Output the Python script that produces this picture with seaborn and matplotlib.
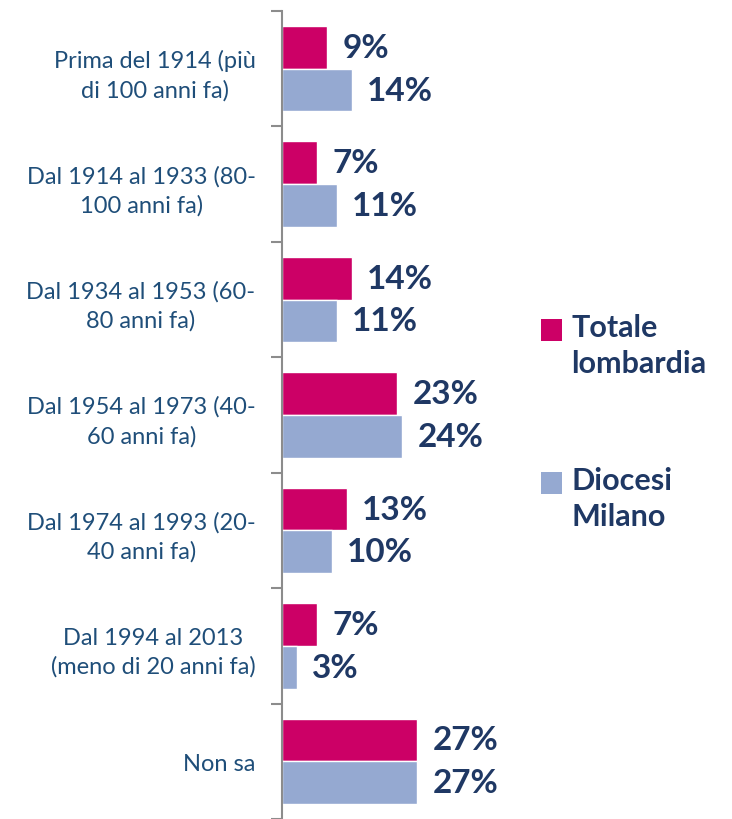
import pandas as pd
import matplotlib.pyplot as plt
import seaborn as sns
from matplotlib.patches import Rectangle

# Data
categories = ["Prima del 1914 (più\ndi 100 anni fa)",
              "Dal 1914 al 1933 (80-\n100 anni fa)",
              "Dal 1934 al 1953 (60-\n80 anni fa)",
              "Dal 1954 al 1973 (40-\n60 anni fa)",
              "Dal 1974 al 1993 (20-\n40 anni fa)",
              "Dal 1994 al 2013\n(meno di 20 anni fa)",
              "Non sa"]
series = ["Totale\nlombardia", "Diocesi\nMilano"]
lombardia = [9, 7, 14, 23, 13, 7, 27]
milano = [14, 11, 11, 24, 10, 3, 27]

colors = ["#CC0066", "#95A9D1"]
navy = "#1F3864"

df = pd.DataFrame({
    "cat": categories * 2,
    "serie": [series[0]] * len(categories) + [series[1]] * len(categories),
    "val": lombardia + milano,
})

sns.set_style("white")
plt.rcParams['font.family'] = ['Lato', 'DejaVu Sans']

fig = plt.figure(figsize=(7.32, 8.2), dpi=100)
ax = fig.add_axes([282 / 732, 0.0, 240 / 732, 1 - 12 / 820])

sns.barplot(data=df, y="cat", x="val", hue="serie", orient="h",
            palette=colors, width=0.74, saturation=1, ax=ax, errorbar=None)
ax.get_legend().remove()

# value labels
for cont in ax.containers:
    ax.bar_label(cont, labels=[f"{v:.0f}%" for v in cont.datavalues],
                 padding=11, fontsize=24, fontweight="bold", color=navy)

ax.set_xlim(0, 48)
ax.set_ylim(len(categories) - 0.54, -0.5)
ax.set_xlabel("")
ax.set_ylabel("")
ax.set_xticks([])

for s in ["top", "right", "bottom"]:
    ax.spines[s].set_visible(False)
ax.spines["left"].set_color("#8C8C8C")
ax.spines["left"].set_linewidth(1.5)

ax.set_yticks(range(len(categories)))
ax.set_yticklabels(categories, fontsize=17, color="#1F4E79",
                   multialignment="center", linespacing=1.45)
ax.tick_params(axis="y", which="major", left=False, length=0, pad=19)
ax.set_yticks([i - 0.5 for i in range(len(categories) + 1)], minor=True)
ax.tick_params(axis="y", which="minor", left=True, length=8, width=1.5,
               color="#8C8C8C")

# legend drawn by hand so the square sits beside the first line
W, H = 732, 820
for c, lab, ytop in zip(colors, series, [320, 473]):
    fig.patches.append(Rectangle((541 / W, 1 - (ytop + 22) / H), 21 / W, 22 / H,
                                 transform=fig.transFigure, facecolor=c,
                                 edgecolor="none"))
    fig.text(571 / W, 1 - (ytop - 6) / H, lab, ha="left", va="top",
             fontsize=22, fontweight="bold", color=navy, linespacing=1.35)

fig.savefig("out.png", dpi=100)
